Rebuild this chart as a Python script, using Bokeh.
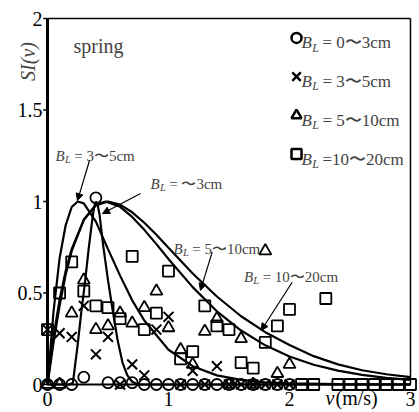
from bokeh.plotting import figure
from bokeh.models import Range1d, Label, LabelSet, ColumnDataSource, Arrow, NormalHead
from bokeh.embed import file_html
from bokeh.resources import INLINE

SERIF = "Liberation Serif"

# ---------------- data ----------------
v_short = [0.0, 0.1, 0.2, 0.3, 0.4, 0.5, 0.6, 0.7, 0.8, 0.9, 1.0,
           1.1, 1.2, 1.3, 1.4, 1.5, 1.6, 1.7, 1.8, 1.9, 2.0]
v_long = [0.0, 0.1, 0.2, 0.3, 0.4, 0.5, 0.6, 0.7, 0.8, 0.9, 1.0,
          1.1, 1.2, 1.3, 1.4, 1.5, 1.6, 1.7, 1.8, 1.9, 2.0,
          2.1, 2.2, 2.3, 2.4, 2.5, 2.6, 2.7, 2.8, 2.9, 3.0]

si_0_3 = [0, 0, 0, 0.04, 1.02, 0.01, 0.01, 0.01, 0, 0, 0,
          0, 0, 0, 0, 0, 0, 0, 0, 0, 0]
si_3_5 = [0.30, 0.28, 0.26, 0.43, 0.165, 0.26, 0, 0.11, 0.05, 0.30, 0.37,
          0, 0.075, 0, 0.10, 0, 0, 0, 0, 0, 0]
si_5_10 = [0, 0, 0.39, 0.57, 0.30, 0.32, 0.39, 0.335, 0.42, 0.51, 0.31,
           0.19, 0.11, 0.29, 0.36, 0, 0.25, 0, 0.73, 0.06, 0.11]
si_10_20 = [0.30, 0.50, 0.67, 0.51, 0.43, 0.42, 0.36, 0.70, 0.30, 0.39, 0.62,
            0.14, 0.18, 0.43, 0.32, 0.30, 0.12, 0.09, 0.23, 0.32, 0.41,
            0, 0, 0.47, 0, 0, 0, 0, 0, 0, 0]

# fitted curves
cA_v = [0, 0.02, 0.05, 0.1, 0.15, 0.2, 0.25, 0.3, 0.4, 0.5, 0.6, 0.7, 0.8,
        1.0, 1.2, 1.4, 1.6, 1.8, 2.0, 2.4, 2.8, 3.0]
cA_si = [0, 0.16, 0.40, 0.69, 0.87, 0.97, 1.0, 0.99, 0.89, 0.74, 0.595, 0.46, 0.35,
         0.19, 0.10, 0.05, 0.025, 0.012, 0.006, 0.002, 0.0005, 0.0]

cB_v = [0, 0.18, 0.21, 0.25, 0.28, 0.31, 0.34, 0.37, 0.385, 0.4, 0.415, 0.43,
        0.46, 0.5, 0.54, 0.58, 0.62, 0.66, 0.7, 0.75, 3.0]
cB_si = [0, 0, 0.01, 0.22, 0.40, 0.56, 0.74, 0.90, 0.97, 1.0, 0.98, 0.93,
         0.76, 0.57, 0.40, 0.24, 0.12, 0.05, 0.015, 0, 0]

cC_v = [0, 0.02, 0.05, 0.1, 0.15, 0.2, 0.3, 0.4, 0.48, 0.6, 0.7, 0.8, 0.9, 1.0,
        1.2, 1.4, 1.6, 1.8, 2.0, 2.2, 2.4, 2.6, 2.8, 3.0]
cC_si = [0, 0.09, 0.23, 0.43, 0.60, 0.73, 0.90, 0.983, 1.0, 0.971, 0.916, 0.845,
         0.767, 0.686, 0.532, 0.40, 0.295, 0.214, 0.153, 0.108, 0.076, 0.053,
         0.036, 0.025]

cD_v = [0, 0.02, 0.05, 0.1, 0.15, 0.2, 0.3, 0.4, 0.5, 0.6, 0.7, 0.8, 0.9, 1.0,
        1.2, 1.4, 1.6, 1.8, 2.0, 2.2, 2.4, 2.6, 2.8, 3.0]
cD_si = [0, 0.117, 0.264, 0.464, 0.62, 0.74, 0.90, 0.978, 1.0, 0.983, 0.941,
         0.884, 0.818, 0.747, 0.607, 0.481, 0.373, 0.286, 0.216, 0.155, 0.11,
         0.078, 0.056, 0.04]

y_ticks = [0, 0.5, 1, 1.5, 2]
y_tick_labels = ["0", "0.5", "1", "1.5", "2"]
x_ticks = [0, 1, 2, 3]
x_tick_labels = ["0", "1", "2", "3"]

legend_texts = ["= 0〜3cm", "= 3〜5cm", "= 5〜10cm", "=10〜20cm"]
legend_markers = ["circle", "x", "triangle", "square"]

X_MAX, Y_MAX = 3.0, 2.0

# ---------------- figure (frame fills the whole canvas) ----------------
p = figure(width=419, height=412, x_range=Range1d(-0.3884, 3.0744),
           y_range=Range1d(-0.1530, 2.0984), x_axis_location=None,
           y_axis_location=None, min_border=0, output_backend="svg",
           toolbar_location=None, title=None, background_fill_color="white",
           border_fill_color="white")
p.xgrid.visible = False
p.ygrid.visible = False
p.outline_line_color = None

# frame lines
p.segment(x0=[0], y0=[0], x1=[0], y1=[Y_MAX], line_color="black", line_width=3)
p.segment(x0=[0], y0=[0], x1=[X_MAX], y1=[0], line_color="black", line_width=2)
p.segment(x0=[0], y0=[Y_MAX], x1=[X_MAX], y1=[Y_MAX], line_color="black", line_width=1.5)
p.segment(x0=[X_MAX], y0=[0], x1=[X_MAX], y1=[Y_MAX], line_color="black", line_width=1.5)
# y tick marks
p.segment(x0=[-0.035] * len(y_ticks), y0=y_ticks, x1=[0] * len(y_ticks), y1=y_ticks,
          line_color="black", line_width=1.5)

# curves
for cv, cs in [(cA_v, cA_si), (cB_v, cB_si), (cC_v, cC_si), (cD_v, cD_si)]:
    p.line(cv, cs, line_color="black", line_width=2.2)

# points
mk = dict(fill_color=None, line_color="black")
p.scatter(v_long, si_10_20, marker="square", size=11, line_width=1.8, **mk)
p.scatter(v_short, si_5_10, marker="triangle", size=12, line_width=1.8, **mk)
p.scatter(v_short, si_3_5, marker="x", size=14, line_width=2.0, **mk)
p.scatter(v_short, si_0_3, marker="circle", size=11, line_width=1.8, **mk)

# tick labels
yl = ColumnDataSource(dict(x=[-0.0413] * len(y_ticks), y=y_ticks, t=y_tick_labels))
p.add_layout(LabelSet(x="x", y="y", text="t", source=yl, text_align="right",
                      text_baseline="middle", text_font=SERIF,
                      text_font_size="20px", text_color="black"))
xl = ColumnDataSource(dict(x=x_ticks, y=[-0.120] * len(x_ticks), t=x_tick_labels))
p.add_layout(LabelSet(x="x", y="y", text="t", source=xl, text_align="center",
                      text_baseline="alphabetic", text_font=SERIF,
                      text_font_size="20px", text_color="black"))

# axis titles
vs1 = ColumnDataSource(dict(x=[2.298], y=[-0.112], t=["v"]))
p.add_layout(LabelSet(x="x", y="y", text="t", source=vs1, text_font=SERIF,
                      text_font_style="italic", text_font_size="20px",
                      text_baseline="alphabetic", text_color="black"))
vs2 = ColumnDataSource(dict(x=[2.298], y=[-0.112], t=["(m/s)"]))
p.add_layout(LabelSet(x="x", y="y", text="t", source=vs2, x_offset=10, text_font=SERIF,
                      text_font_size="20px", text_baseline="alphabetic",
                      text_color="black"))
p.add_layout(Label(x=-0.165, y=1.765, text="SI(v)", angle=1.5708, text_font=SERIF,
                   text_font_style="italic", text_font_size="20px",
                   text_align="center", text_baseline="middle"))
p.add_layout(Label(x=0.215, y=1.85, text="spring", text_font=SERIF,
                   text_font_size="20px", text_baseline="middle"))


def bl_label(x, y, rest, size, yoff=0):
    p.add_layout(Label(x=x, y=y, y_offset=yoff, text="B", text_font=SERIF,
                       text_font_style="italic", text_font_size=f"{size}px",
                       text_baseline="alphabetic"))
    p.add_layout(Label(x=x, y=y, x_offset=0.63 * size, y_offset=yoff - 0.28 * size,
                       text="L", text_font=SERIF, text_font_style="italic",
                       text_font_size=f"{0.7 * size:.1f}px", text_baseline="alphabetic"))
    p.add_layout(Label(x=x, y=y, x_offset=0.63 * size + 0.42 * size + 3, y_offset=yoff,
                       text=rest, text_font=SERIF, text_font_size=f"{size}px",
                       text_baseline="alphabetic"))


# legend
leg_mx, leg_tx, leg_y0, leg_dy = 2.058, 2.10, 1.894, 0.2115
for i, (m, t) in enumerate(zip(legend_markers, legend_texts)):
    yy = leg_y0 - i * leg_dy
    p.scatter([leg_mx], [yy], marker=m, size=10 if m != "x" else 12, fill_color=None,
              line_color="black", line_width=2.5)
    bl_label(leg_tx, yy, t, 17, yoff=-5)

# curve annotations
bl_label(0.066, 1.251, "= 3〜5cm", 15)
bl_label(0.851, 1.098, "= 〜3cm", 15)
bl_label(1.041, 0.743, "= 5〜10cm", 15)
bl_label(1.623, 0.590, "= 10〜20cm", 15)

for xs, ys, xe, ye in [(0.347, 1.224, 0.248, 1.005), (0.769, 1.044, 0.455, 0.934),
                       (1.361, 0.723, 1.264, 0.514), (2.022, 0.559, 1.766, 0.295)]:
    p.add_layout(Arrow(end=NormalHead(size=7, fill_color="black", line_color="black"),
                       x_start=xs, y_start=ys, x_end=xe, y_end=ye,
                       line_color="black", line_width=1.2))

open("out.html", "w").write(file_html(p, INLINE))
